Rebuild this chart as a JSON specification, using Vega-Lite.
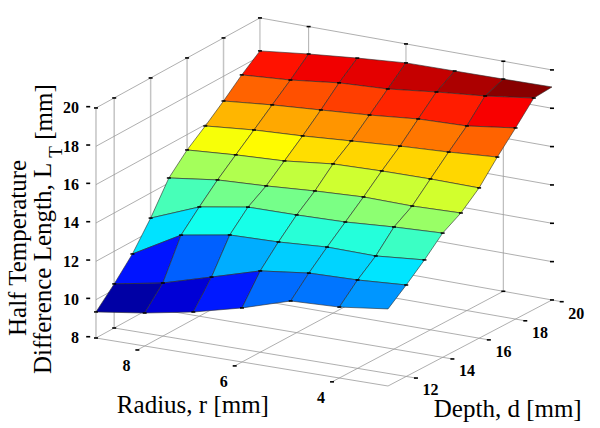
{"$schema":"https://vega.github.io/schema/vega-lite/v6.json","width":600,"height":428,"padding":0,"autosize":{"type":"fit","contains":"padding"},"background":"white","view":{"stroke":null},
"datasets":{
"grid":[
{"id":"9_20","r":9,"d":20,"L":18.28},{"id":"8_20","r":8,"d":20,"L":18.57},{"id":"7_20","r":7,"d":20,"L":18.81},{"id":"6_20","r":6,"d":20,"L":19.01},{"id":"5_20","r":5,"d":20,"L":19.04},{"id":"4_20","r":4,"d":20,"L":19.07},{"id":"3_20","r":3,"d":20,"L":19.11},
{"id":"9_19","r":9,"d":19,"L":17.55},{"id":"8_19","r":8,"d":19,"L":17.73},{"id":"7_19","r":7,"d":19,"L":18.03},{"id":"6_19","r":6,"d":19,"L":18.16},{"id":"5_19","r":5,"d":19,"L":18.45},{"id":"4_19","r":4,"d":19,"L":18.69},{"id":"3_19","r":3,"d":19,"L":19.03},
{"id":"9_18","r":9,"d":18,"L":16.71},{"id":"8_18","r":8,"d":18,"L":16.95},{"id":"7_18","r":7,"d":18,"L":17.13},{"id":"6_18","r":6,"d":18,"L":17.31},{"id":"5_18","r":5,"d":18,"L":17.55},{"id":"4_18","r":4,"d":18,"L":17.63},{"id":"3_18","r":3,"d":18,"L":17.97},
{"id":"9_17","r":9,"d":17,"L":15.93},{"id":"8_17","r":8,"d":17,"L":16.16},{"id":"7_17","r":7,"d":17,"L":16.29},{"id":"6_17","r":6,"d":17,"L":16.47},{"id":"5_17","r":5,"d":17,"L":16.64},{"id":"4_17","r":4,"d":17,"L":16.77},{"id":"3_17","r":3,"d":17,"L":16.95},
{"id":"9_16","r":9,"d":16,"L":15.2},{"id":"8_16","r":8,"d":16,"L":15.38},{"id":"7_16","r":7,"d":16,"L":15.5},{"id":"6_16","r":6,"d":16,"L":15.78},{"id":"5_16","r":5,"d":16,"L":15.85},{"id":"4_16","r":4,"d":16,"L":15.87},{"id":"3_16","r":3,"d":16,"L":15.84},
{"id":"9_15","r":9,"d":15,"L":14.26},{"id":"8_15","r":8,"d":15,"L":14.59},{"id":"7_15","r":7,"d":15,"L":14.71},{"id":"6_15","r":6,"d":15,"L":14.88},{"id":"5_15","r":5,"d":15,"L":15.0},{"id":"4_15","r":4,"d":15,"L":14.96},{"id":"3_15","r":3,"d":15,"L":15.03},
{"id":"9_14","r":9,"d":14,"L":12.69},{"id":"8_14","r":8,"d":14,"L":13.7},{"id":"7_14","r":7,"d":14,"L":14.12},{"id":"6_14","r":6,"d":14,"L":14.14},{"id":"5_14","r":5,"d":14,"L":14.2},{"id":"4_14","r":4,"d":14,"L":14.37},{"id":"3_14","r":3,"d":14,"L":14.48},
{"id":"9_13","r":9,"d":13,"L":11.34},{"id":"8_13","r":8,"d":13,"L":12.75},{"id":"7_13","r":7,"d":13,"L":13.18},{"id":"6_13","r":6,"d":13,"L":13.24},{"id":"5_13","r":5,"d":13,"L":13.4},{"id":"4_13","r":4,"d":13,"L":13.36},{"id":"3_13","r":3,"d":13,"L":13.58},
{"id":"9_12","r":9,"d":12,"L":10.3},{"id":"8_12","r":8,"d":12,"L":10.77},{"id":"7_12","r":7,"d":12,"L":11.5},{"id":"6_12","r":6,"d":12,"L":12.24},{"id":"5_12","r":5,"d":12,"L":12.55},{"id":"4_12","r":4,"d":12,"L":12.61},{"id":"3_12","r":3,"d":12,"L":12.77},
{"id":"9_11","r":9,"d":11,"L":9.36},{"id":"8_11","r":8,"d":11,"L":9.72},{"id":"7_11","r":7,"d":11,"L":10.19},{"id":"6_11","r":6,"d":11,"L":10.82},{"id":"5_11","r":5,"d":11,"L":11.6},{"id":"4_11","r":4,"d":11,"L":11.7},{"id":"3_11","r":3,"d":11,"L":12.02}
],
"frame":[
{"part":"floor","r":4,"d":10.6,"L":8,"r2":4,"d2":20,"L2":8},{"part":"floor","r":6,"d":10.6,"L":8,"r2":6,"d2":20,"L2":8},{"part":"floor","r":8,"d":10.6,"L":8,"r2":8,"d2":20,"L2":8},
{"part":"floor","r":2.8,"d":12,"L":8,"r2":9,"d2":12,"L2":8},{"part":"floor","r":2.8,"d":14,"L":8,"r2":9,"d2":14,"L2":8},{"part":"floor","r":2.8,"d":16,"L":8,"r2":9,"d2":16,"L2":8},{"part":"floor","r":2.8,"d":18,"L":8,"r2":9,"d2":18,"L2":8},{"part":"floor","r":2.8,"d":20,"L":8,"r2":9,"d2":20,"L2":8},
{"part":"floor","r":3,"d":11,"L":8,"r2":3,"d2":20,"L2":8},{"part":"floor","r":9,"d":11,"L":8,"r2":9,"d2":20,"L2":8},{"part":"floor","r":3,"d":11,"L":8,"r2":9,"d2":11,"L2":8},
{"part":"post","r":9,"d":11,"L":8,"r2":9,"d2":11,"L2":20},{"part":"post","r":9,"d":12,"L":8,"r2":9,"d2":12,"L2":20},{"part":"post","r":9,"d":14,"L":8,"r2":9,"d2":14,"L2":20},{"part":"post","r":9,"d":16,"L":8,"r2":9,"d2":16,"L2":20},{"part":"post","r":9,"d":18,"L":8,"r2":9,"d2":18,"L2":20},{"part":"floor","r":9,"d":20,"L":8,"r2":9,"d2":20,"L2":20},
{"part":"floor","r":9,"d":11,"L":10,"r2":9,"d2":20,"L2":10},{"part":"floor","r":9,"d":11,"L":12,"r2":9,"d2":20,"L2":12},{"part":"floor","r":9,"d":11,"L":14,"r2":9,"d2":20,"L2":14},{"part":"floor","r":9,"d":11,"L":16,"r2":9,"d2":20,"L2":16},{"part":"floor","r":9,"d":11,"L":18,"r2":9,"d2":20,"L2":18},{"part":"floor","r":9,"d":11,"L":20,"r2":9,"d2":20,"L2":20},
{"part":"floor","r":4,"d":20,"L":8,"r2":4,"d2":20,"L2":20},{"part":"floor","r":6,"d":20,"L":8,"r2":6,"d2":20,"L2":20},{"part":"floor","r":8,"d":20,"L":8,"r2":8,"d2":20,"L2":20},
{"part":"floor","r":3,"d":20,"L":10,"r2":9,"d2":20,"L2":10},{"part":"floor","r":3,"d":20,"L":12,"r2":9,"d2":20,"L2":12},{"part":"floor","r":3,"d":20,"L":14,"r2":9,"d2":20,"L2":14},{"part":"floor","r":3,"d":20,"L":16,"r2":9,"d2":20,"L2":16},{"part":"floor","r":3,"d":20,"L":18,"r2":9,"d2":20,"L2":18},{"part":"floor","r":3,"d":20,"L":20,"r2":9,"d2":20,"L2":20}
],
"dashes":[
{"r":9,"d":11,"L":20},{"r":9,"d":12,"L":20},{"r":9,"d":14,"L":20},{"r":9,"d":16,"L":20},{"r":9,"d":18,"L":20},{"r":9,"d":20,"L":20},{"r":8,"d":20,"L":20},{"r":6,"d":20,"L":20},{"r":4,"d":20,"L":20},{"r":3,"d":20,"L":20},
{"r":3,"d":20,"L":8},{"r":3,"d":20,"L":10},{"r":3,"d":20,"L":12},{"r":3,"d":20,"L":14},{"r":3,"d":20,"L":16},{"r":3,"d":20,"L":18},
{"r":2.8,"d":12,"L":8},{"r":2.8,"d":14,"L":8},{"r":2.8,"d":16,"L":8},{"r":2.8,"d":18,"L":8},{"r":2.8,"d":20,"L":8},
{"r":4,"d":10.6,"L":8},{"r":6,"d":10.6,"L":8},{"r":8,"d":10.6,"L":8},
{"r":9,"d":11,"L":8},{"r":9,"d":12,"L":8},{"r":4,"d":20,"L":8},
{"r":9.16,"d":11,"L":8},{"r":9.16,"d":11,"L":10},{"r":9.16,"d":11,"L":12},{"r":9.16,"d":11,"L":14},{"r":9.16,"d":11,"L":16},{"r":9.16,"d":11,"L":18},{"r":9.16,"d":11,"L":20}
]},
"layer":[
{"data":{"name":"frame"},"transform":[
{"calculate":"388-48.67*(datum.r-3)+18.22*(datum.d-11)","as":"sx"},
{"calculate":"386-8*(datum.r-3)-9.56*(datum.d-11)-0.074*(datum.r-3)*(datum.d-11)-19.17*(datum.L-8)","as":"sy"},
{"calculate":"388-48.67*(datum.r2-3)+18.22*(datum.d2-11)","as":"sx2"},
{"calculate":"386-8*(datum.r2-3)-9.56*(datum.d2-11)-0.074*(datum.r2-3)*(datum.d2-11)-19.17*(datum.L2-8)","as":"sy2"}],
"mark":{"type":"rule"},
"encoding":{"x":{"field":"sx","type":"quantitative","scale":{"domain":[0,600],"nice":false,"zero":false},"axis":null},"y":{"field":"sy","type":"quantitative","scale":{"domain":[428,0],"nice":false,"zero":false},"axis":null},"x2":{"field":"sx2"},"y2":{"field":"sy2"},
"color":{"field":"part","type":"nominal","legend":null,"scale":{"domain":["floor","post"],"range":["#9a9a9a","#c4c4c4"]}},
"strokeWidth":{"field":"part","type":"nominal","legend":null,"scale":{"domain":["floor","post"],"range":[0.8,1.5]}}}},
{"data":{"name":"dashes"},"transform":[
{"calculate":"388-48.67*(datum.r-3)+18.22*(datum.d-11)","as":"sx"},
{"calculate":"386-8*(datum.r-3)-9.56*(datum.d-11)-0.074*(datum.r-3)*(datum.d-11)-19.17*(datum.L-8)","as":"sy"}],
"mark":{"type":"tick","orient":"horizontal","size":4,"thickness":1.6,"color":"#000","opacity":1},
"encoding":{"x":{"field":"sx","type":"quantitative"},"y":{"field":"sy","type":"quantitative"}}},
{"data":{"name":"grid"},"transform":[
{"filter":"datum.r<9 && datum.d<20"},
{"calculate":"datum.L","as":"level"},
{"calculate":"[0,1,2,3,4]","as":"corner"},
{"flatten":["corner"]},
{"calculate":"datum.r+[0,1,1,0,0][datum.corner]","as":"cr"},
{"calculate":"datum.d+[0,0,1,1,0][datum.corner]","as":"cd"},
{"calculate":"datum.cr+'_'+datum.cd","as":"key"},
{"lookup":"key","from":{"data":{"name":"grid"},"key":"id","fields":["L"]},"as":["z"]},
{"calculate":"388-48.67*(datum.cr-3)+18.22*(datum.cd-11)","as":"sx"},
{"calculate":"386-8*(datum.cr-3)-9.56*(datum.cd-11)-0.074*(datum.cr-3)*(datum.cd-11)-19.17*(datum.z-8)","as":"sy"}],
"mark":{"type":"line","stroke":"#2a2a2a","strokeWidth":0.6,"strokeJoin":"round","interpolate":"linear"},
"encoding":{"x":{"field":"sx","type":"quantitative"},"y":{"field":"sy","type":"quantitative"},"detail":{"field":"id","type":"nominal"},"order":{"field":"corner","type":"quantitative"},
"fill":{"field":"level","type":"quantitative","legend":null,"scale":{"type":"linear","domain":[9.36,10.58,13.02,15.46,17.9,19.11],"range":["#000080","#0000ff","#00ffff","#ffff00","#ff0000","#800000"],"interpolate":"rgb"}}}},
{"data":{"name":"grid"},"transform":[
{"calculate":"388-48.67*(datum.r-3)+18.22*(datum.d-11)","as":"sx"},
{"calculate":"386-8*(datum.r-3)-9.56*(datum.d-11)-0.074*(datum.r-3)*(datum.d-11)-19.17*(datum.L-8)","as":"sy"},
{"filter":"!(datum.d==11 && datum.r==3) && !(datum.d==20 && datum.r==3)"}],
"mark":{"type":"tick","orient":"horizontal","size":4,"thickness":1.5,"color":"#000","opacity":1},
"encoding":{"x":{"field":"sx","type":"quantitative"},"y":{"field":"sy","type":"quantitative"}}},
{"data":{"values":[{"t":"20","L":20},{"t":"18","L":18},{"t":"16","L":16},{"t":"14","L":14},{"t":"12","L":12},{"t":"10","L":10},{"t":"8","L":8}]},"transform":[
{"calculate":"388-48.67*6.35","as":"sx"},{"calculate":"386-8*6.35-19.17*(datum.L-8)","as":"sy"}],
"mark":{"type":"text","font":"Liberation Serif","fontWeight":"bold","fontSize":16,"align":"right","baseline":"middle","dy":3,"color":"#000"},
"encoding":{"x":{"field":"sx","type":"quantitative"},"y":{"field":"sy","type":"quantitative"},"text":{"field":"t"}}},
{"data":{"values":[{"t":"8","r":8,"d":10},{"t":"6","r":6,"d":10},{"t":"4","r":4,"d":10},{"t":"12","r":2.5,"d":12},{"t":"14","r":2.5,"d":14},{"t":"16","r":2.5,"d":16},{"t":"18","r":2.5,"d":18},{"t":"20","r":2.5,"d":20}]},"transform":[
{"calculate":"388-48.67*(datum.r-3)+18.22*(datum.d-11)","as":"sx"},
{"calculate":"386-8*(datum.r-3)-9.56*(datum.d-11)-0.074*(datum.r-3)*(datum.d-11)","as":"sy"}],
"mark":{"type":"text","font":"Liberation Serif","fontWeight":"bold","fontSize":16,"align":"center","baseline":"middle","dy":10,"color":"#000"},
"encoding":{"x":{"field":"sx","type":"quantitative"},"y":{"field":"sy","type":"quantitative"},"text":{"field":"t"}}},
{"data":{"values":[{"t":"Radius, r [mm]","r":6.26,"d":9,"L":6.67},{"t":"Depth, d [mm]","r":2,"d":14.9,"L":5.29}]},"transform":[
{"calculate":"388-48.67*(datum.r-3)+18.22*(datum.d-11)","as":"sx"},
{"calculate":"386-8*(datum.r-3)-9.56*(datum.d-11)-0.074*(datum.r-3)*(datum.d-11)-19.17*(datum.L-8)","as":"sy"}],
"mark":{"type":"text","font":"Liberation Serif","fontSize":25,"align":"center","baseline":"middle","color":"#000"},
"encoding":{"x":{"field":"sx","type":"quantitative"},"y":{"field":"sy","type":"quantitative"},"text":{"field":"t"}}},
{"data":{"values":[{"t":"Half Temperature","r":10.6,"d":11,"L":12.03},{"t":"[mm]","r":10.07,"d":11,"L":19.34}]},"transform":[
{"calculate":"388-48.67*(datum.r-3)+18.22*(datum.d-11)","as":"sx"},
{"calculate":"386-8*(datum.r-3)-9.56*(datum.d-11)-0.074*(datum.r-3)*(datum.d-11)-19.17*(datum.L-8)","as":"sy"}],
"mark":{"type":"text","font":"Liberation Serif","fontSize":25,"angle":270,"align":"center","baseline":"middle","color":"#000"},
"encoding":{"x":{"field":"sx","type":"quantitative"},"y":{"field":"sy","type":"quantitative"},"text":{"field":"t"}}},
{"data":{"values":[{"t":"Difference Length, L","r":10.09,"d":11,"L":5.67}]},"transform":[
{"calculate":"388-48.67*(datum.r-3)+18.22*(datum.d-11)","as":"sx"},
{"calculate":"386-8*(datum.r-3)-9.56*(datum.d-11)-0.074*(datum.r-3)*(datum.d-11)-19.17*(datum.L-8)","as":"sy"}],
"mark":{"type":"text","font":"Liberation Serif","fontSize":25,"angle":270,"align":"left","baseline":"middle","color":"#000"},
"encoding":{"x":{"field":"sx","type":"quantitative"},"y":{"field":"sy","type":"quantitative"},"text":{"field":"t"}}},
{"data":{"values":[{"t":"T","r":9.82,"d":11,"L":17.36}]},"transform":[
{"calculate":"388-48.67*(datum.r-3)+18.22*(datum.d-11)","as":"sx"},
{"calculate":"386-8*(datum.r-3)-9.56*(datum.d-11)-0.074*(datum.r-3)*(datum.d-11)-19.17*(datum.L-8)","as":"sy"}],
"mark":{"type":"text","font":"Liberation Serif","fontSize":19,"angle":270,"align":"center","baseline":"middle","color":"#000"},
"encoding":{"x":{"field":"sx","type":"quantitative"},"y":{"field":"sy","type":"quantitative"},"text":{"field":"t"}}}
]}
